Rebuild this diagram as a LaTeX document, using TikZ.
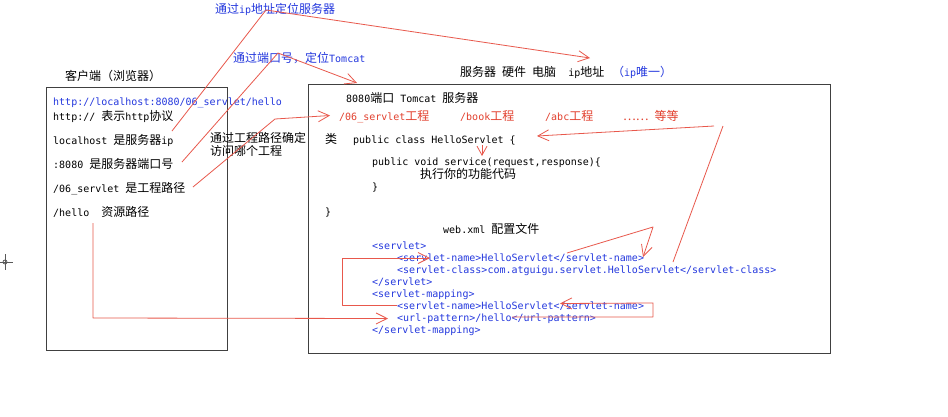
\documentclass[tikz,border=0pt]{standalone}
\usepackage{fontspec}
\setmainfont{DejaVu Sans Mono}
\newfontfamily\cjk[Scale=1.2]{Noto Sans CJK SC}
\newcommand\C[1]{{\cjk #1}}
\usetikzlibrary{arrows.meta,calc}
\definecolor{lnred}{RGB}{232,88,76}
\definecolor{txred}{RGB}{226,64,46}
\definecolor{txblue}{RGB}{36,56,222}
\definecolor{boxgray}{RGB}{64,64,64}
\tikzset{
  txt/.style={anchor=base west, inner sep=0pt, font=\fontsize{10pt}{12pt}\selectfont, text=black},
  bl/.style={txt, text=txblue},
  rd/.style={txt, text=txred},
  panel/.style={draw=boxgray, line width=1.3pt},
  redline/.style={draw=lnred, line width=0.8pt, line join=round},
  redarrow/.style={redline, -{Straight Barb[length=11pt,width=11pt,line width=0.8pt]}},
}
\begin{document}
\begin{tikzpicture}[x=1pt,y=-1pt]
\useasboundingbox (0,0) rectangle (948,416);
\fill[white] (0,0) rectangle (948,416);

% panels
\node[panel, minimum width=181pt, minimum height=263pt, anchor=north west, inner sep=0] (client) at (46,87) {};
\node[panel, minimum width=522pt, minimum height=269pt, anchor=north west, inner sep=0] (server) at (308,84) {};

% top labels
\node[bl] (lblip) at (215,13.5) {\C{通过}ip\C{地址定位服务器}};
\node[bl] (lblport) at (233,62) {\C{通过端口号，定位}Tomcat};
\node[txt] (lblclient) at (65,80) {\C{客户端（浏览器）}};
\node[txt] (lblserver) at (460,76) {\C{服务器} \C{硬件} \C{电脑}\ \ ip\C{地址}};
\node[bl] (lblunique) at (612,76) {\C{（}ip\C{唯一）}};

% client text
\node[bl] (url) at (53,105) {http://localhost:8080/06\_servlet/hello};
\node[txt] (proto) at (53,120) {http:// \C{表示}http\C{协议}};
\node[txt] (host) at (53,144) {localhost \C{是服务器}ip};
\node[txt] (port) at (53,168) {:8080 \C{是服务器端口号}};
\node[txt] (proj) at (53,192) {/06\_servlet \C{是工程路径}};
\node[txt] (res) at (53,216) {/hello\ \ \C{资源路径}};

\node[txt] (note1) at (210,142) {\C{通过工程路径确定}};
\node[txt] (note2) at (210,155) {\C{访问哪个工程}};

% server text
\node[txt] (tomcat) at (346,102) {8080\C{端口} Tomcat \C{服务器}};
\node[rd] (p1) at (339,120) {/06\_servlet\C{工程}};
\node[rd] (p2) at (460,120) {/book\C{工程}};
\node[rd] (p3) at (545,120) {/abc\C{工程}};
\node[rd] (p4) at (623,120) {\C{……} \C{等等}};

\node[txt] (lei) at (325,143) {\C{类}};
\node[txt] (cls) at (353,143) {public class HelloServlet \{};
\node[txt] (svc) at (372,165.5) {public void service(request,response)\{};
\node[txt] (code) at (420,178.5) {\C{执行你的功能代码}};
\node[txt] (br1) at (372,190) {\}};
\node[txt] (br2) at (325,215) {\}};

\node[txt] (webxml) at (443,233) {web.xml \C{配置文件}};
\node[bl] (x1) at (372,249) {<servlet>};
\node[bl] (x2) at (397,261) {<servlet-name>HelloServlet</servlet-name>};
\node[bl] (x3) at (397,273) {<servlet-class>com.atguigu.servlet.HelloServlet</servlet-class>};
\node[bl] (x4) at (372,285) {</servlet>};
\node[bl] (x5) at (372,297) {<servlet-mapping>};
\node[bl] (x6) at (397,309) {<servlet-name>HelloServlet</servlet-name>};
\node[bl] (x7) at (397,321) {<url-pattern>/hello</url-pattern>};
\node[bl] (x8) at (372,333) {</servlet-mapping>};

% connector points
\coordinate (a0) at (172,131);
\coordinate (a1) at (266,10);
\coordinate (a2) at (590,58);
\coordinate (b0) at (182,162);
\coordinate (b1) at (278,53);
\coordinate (b2) at (357,83);
\coordinate (c0) at (193,187);
\coordinate (c1) at (275,119);
\coordinate (c2) at (330,115.5);
\coordinate (d0) at (714,126);
\coordinate (d1) at (537,136);
\coordinate (e0) at (673,262);
\coordinate (e1) at (723,126);
\coordinate (f0) at (567,253);
\coordinate (f1) at (653,227);
\coordinate (f2) at (643,257);
\coordinate (g0) at (512,317);
\coordinate (g1) at (653,317);
\coordinate (g2) at (653,303);
\coordinate (g3) at (560,303.5);
\coordinate (h0) at (397,305);
\coordinate (h1) at (342,305);
\coordinate (h2) at (342,258);
\coordinate (h3) at (430,258);
\coordinate (i0) at (93,223);
\coordinate (i1) at (93,318);
\coordinate (i2) at (388,318.5);
\coordinate (s0) at (482,145);
\coordinate (s1) at (482,156);

% red connectors
\draw[redarrow] (a0) -- (a1) -- (a2);
\draw[redarrow] (b0) -- (b1) -- (b2);
\draw[redarrow] (c0) -- (c1) -- (c2);
\draw[redarrow] (d0) -- (d1);
\draw[redline] (e0) -- (e1);
\draw[redarrow] (f0) -- (f1) -- (f2);
\draw[redarrow] (g0) -- (g1) -- (g2) -- (g3);
\draw[redarrow] (h0) -- (h1) -- (h2) -- (h3);
\draw[redarrow] (i0) -- (i1) -- (i2);
\draw[redline, -{Straight Barb[length=9pt,width=10pt,line width=0.8pt]}] (s0) -- (s1);

% cursor mark
\coordinate (cur) at (5,262);
\draw[gray!70!black, line width=0.8pt] ($(cur)+(-5,0)$) -- ($(cur)+(8,0)$) ($(cur)+(0,-8)$) -- ($(cur)+(0,8)$);
\draw[gray!70!black, line width=0.8pt] (cur) circle (2pt);
\end{tikzpicture}
\end{document}
